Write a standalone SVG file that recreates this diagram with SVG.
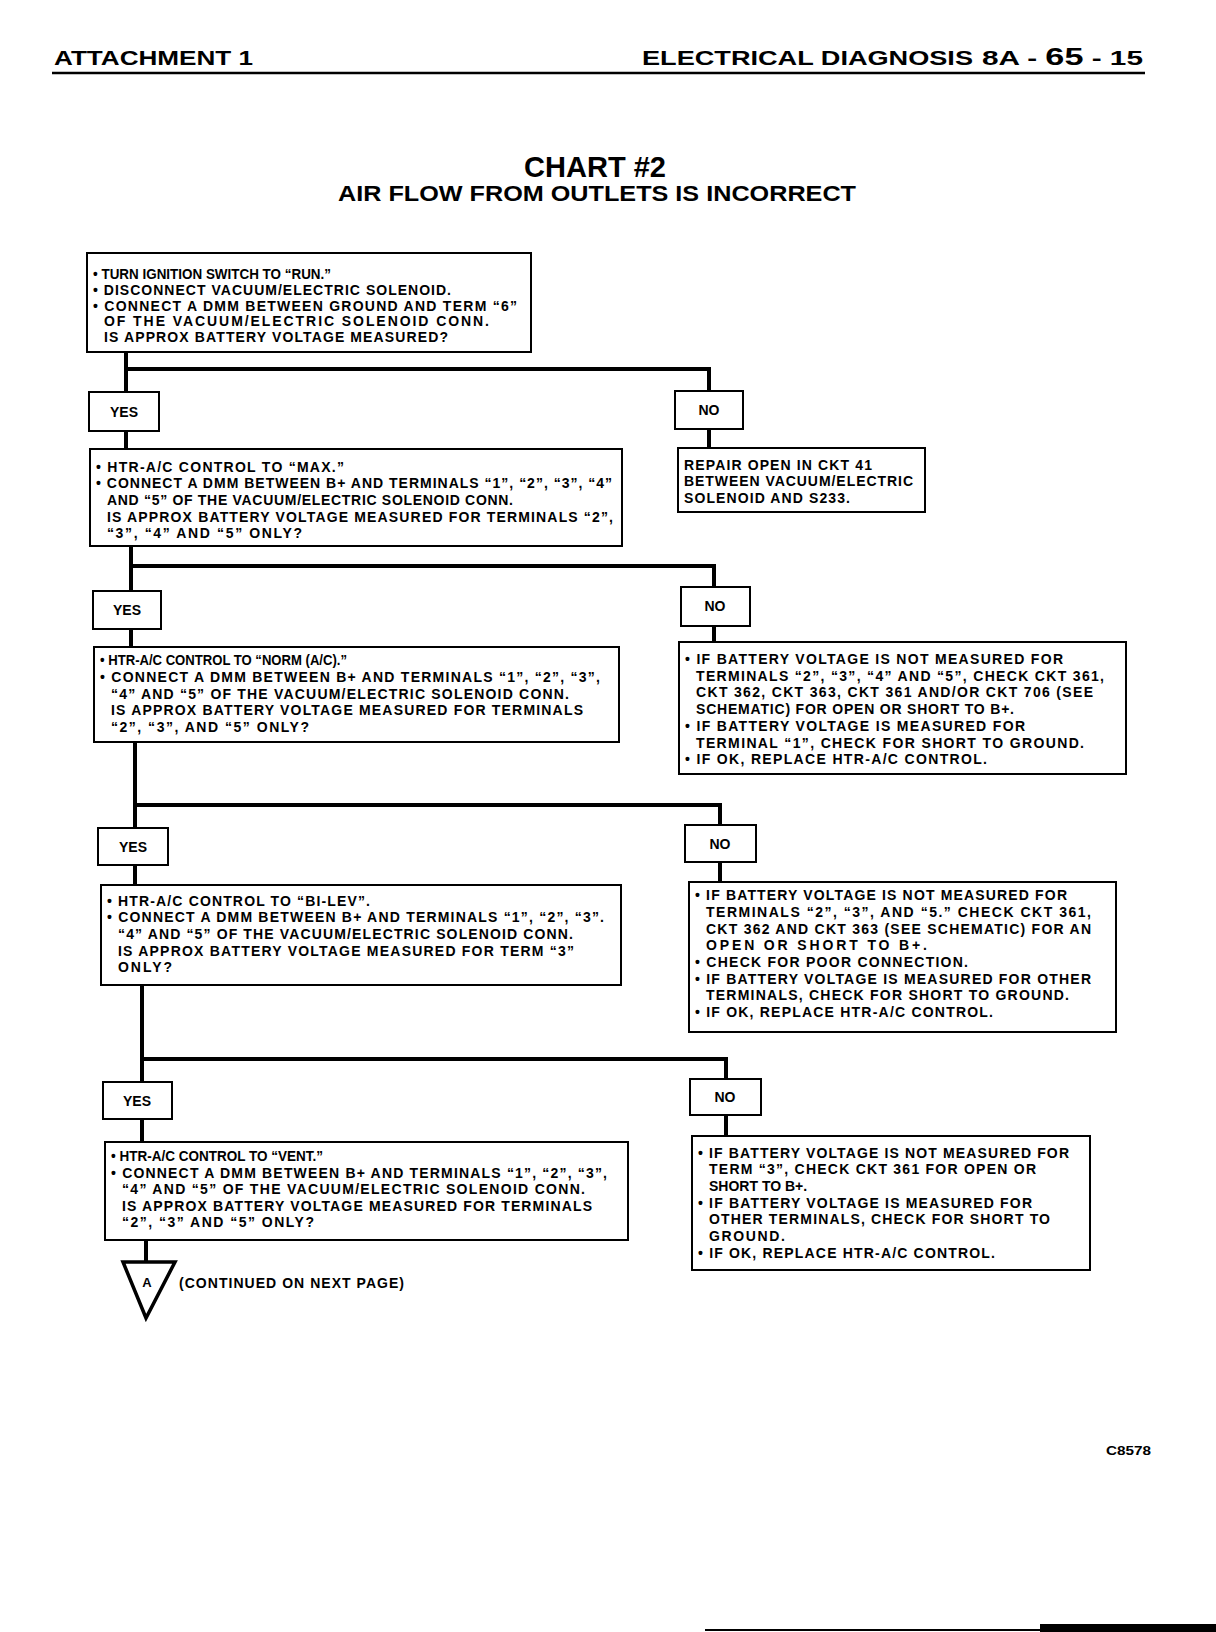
<svg xmlns="http://www.w3.org/2000/svg" width="1216" height="1632" viewBox="0 0 1216 1632">
<style>
text{font-family:"Liberation Sans",Arial,sans-serif;font-weight:bold;fill:#000}
.t{font-size:14px}
.lbl{font-size:14px;text-anchor:middle}
.box{fill:#fff;stroke:#000;stroke-width:2}
.conn{fill:none;stroke:#000;stroke-width:4}
</style>
<rect width="1216" height="1632" fill="#fff"/>
<g id="header">
<text x="54" y="65" font-size="20" textLength="199" lengthAdjust="spacingAndGlyphs">ATTACHMENT 1</text>
<text x="642" y="65" font-size="20" textLength="331" lengthAdjust="spacingAndGlyphs">ELECTRICAL DIAGNOSIS</text>
<text x="982" y="65" font-size="20" textLength="161" lengthAdjust="spacingAndGlyphs">8A - <tspan font-size="23">65</tspan> - 15</text>
<line x1="52" y1="73" x2="1145" y2="73" stroke="#000" stroke-width="2.5"/>
</g>
<g id="title">
<text x="524" y="177" font-size="30" textLength="142" lengthAdjust="spacingAndGlyphs">CHART #2</text>
<text x="338" y="201" font-size="22" textLength="518" lengthAdjust="spacingAndGlyphs">AIR FLOW FROM OUTLETS IS INCORRECT</text>
</g>
<g id="connectors">
<path class="conn" d="M126 352V392M126 369H709V391M126 431V449M709 429V448"/>
<path class="conn" d="M131 546V591M131 566H714V587M131 629V647M714 626V642"/>
<path class="conn" d="M135 742V828M135 805H720V825M135 865V885M720 862V882"/>
<path class="conn" d="M142 985V1082M142 1059H726V1079M142 1119V1142M726 1115V1136"/>
<path class="conn" d="M146 1240V1262"/>
</g>
<g id="step1">
<rect class="box" x="87" y="253" width="444" height="99"/>
<text class="t" x="93" y="279" textLength="238" lengthAdjust="spacingAndGlyphs">• TURN IGNITION SWITCH TO “RUN.”</text>
<text class="t" x="93" y="295" textLength="358" lengthAdjust="spacing">• DISCONNECT VACUUM/ELECTRIC SOLENOID.</text>
<text class="t" x="93" y="311" textLength="424" lengthAdjust="spacing">• CONNECT A DMM BETWEEN GROUND AND TERM “6”</text>
<text class="t" x="104" y="326" textLength="385" lengthAdjust="spacing">OF THE VACUUM/ELECTRIC SOLENOID CONN.</text>
<text class="t" x="104" y="342" textLength="344" lengthAdjust="spacing">IS APPROX BATTERY VOLTAGE MEASURED?</text>
</g>
<g id="yes1"><rect class="box" x="89" y="392" width="70" height="39"/><text class="lbl" x="124" y="417">YES</text></g>
<g id="no1"><rect class="box" x="675" y="391" width="68" height="38"/><text class="lbl" x="709" y="415">NO</text></g>
<g id="repair1">
<rect class="box" x="678" y="448" width="247" height="64"/>
<text class="t" x="684" y="470" textLength="188" lengthAdjust="spacing">REPAIR OPEN IN CKT 41</text>
<text class="t" x="684" y="486" textLength="229" lengthAdjust="spacing">BETWEEN VACUUM/ELECTRIC</text>
<text class="t" x="684" y="503" textLength="166" lengthAdjust="spacing">SOLENOID AND S233.</text>
</g>
<g id="step2">
<rect class="box" x="90" y="449" width="532" height="97"/>
<text class="t" x="96" y="472" textLength="248" lengthAdjust="spacing">• HTR-A/C CONTROL TO “MAX.”</text>
<text class="t" x="96" y="488" textLength="516" lengthAdjust="spacing">• CONNECT A DMM BETWEEN B+ AND TERMINALS “1”, “2”, “3”, “4”</text>
<text class="t" x="107" y="505" textLength="406" lengthAdjust="spacing">AND “5” OF THE VACUUM/ELECTRIC SOLENOID CONN.</text>
<text class="t" x="107" y="522" textLength="506" lengthAdjust="spacing">IS APPROX BATTERY VOLTAGE MEASURED FOR TERMINALS “2”,</text>
<text class="t" x="107" y="538" textLength="195" lengthAdjust="spacing">“3”, “4” AND “5” ONLY?</text>
</g>
<g id="yes2"><rect class="box" x="93" y="591" width="68" height="38"/><text class="lbl" x="127" y="615">YES</text></g>
<g id="no2"><rect class="box" x="681" y="587" width="69" height="39"/><text class="lbl" x="715" y="611">NO</text></g>
<g id="step3">
<rect class="box" x="94" y="647" width="525" height="95"/>
<text class="t" x="100" y="665" textLength="247" lengthAdjust="spacingAndGlyphs">• HTR-A/C CONTROL TO “NORM (A/C).”</text>
<text class="t" x="100" y="682" textLength="500" lengthAdjust="spacing">• CONNECT A DMM BETWEEN B+ AND TERMINALS “1”, “2”, “3”,</text>
<text class="t" x="111" y="699" textLength="458" lengthAdjust="spacing">“4” AND “5” OF THE VACUUM/ELECTRIC SOLENOID CONN.</text>
<text class="t" x="111" y="715" textLength="472" lengthAdjust="spacing">IS APPROX BATTERY VOLTAGE MEASURED FOR TERMINALS</text>
<text class="t" x="111" y="732" textLength="198" lengthAdjust="spacing">“2”, “3”, AND “5” ONLY?</text>
</g>
<g id="repair2">
<rect class="box" x="679" y="642" width="447" height="132"/>
<text class="t" x="685" y="664" textLength="378" lengthAdjust="spacing">• IF BATTERY VOLTAGE IS NOT MEASURED FOR</text>
<text class="t" x="696" y="681" textLength="408" lengthAdjust="spacing">TERMINALS “2”, “3”, “4” AND “5”, CHECK CKT 361,</text>
<text class="t" x="696" y="697" textLength="397" lengthAdjust="spacing">CKT 362, CKT 363, CKT 361 AND/OR CKT 706 (SEE</text>
<text class="t" x="696" y="714" textLength="318" lengthAdjust="spacing">SCHEMATIC) FOR OPEN OR SHORT TO B+.</text>
<text class="t" x="685" y="731" textLength="340" lengthAdjust="spacing">• IF BATTERY VOLTAGE IS MEASURED FOR</text>
<text class="t" x="696" y="748" textLength="388" lengthAdjust="spacing">TERMINAL “1”, CHECK FOR SHORT TO GROUND.</text>
<text class="t" x="685" y="764" textLength="302" lengthAdjust="spacing">• IF OK, REPLACE HTR-A/C CONTROL.</text>
</g>
<g id="yes3"><rect class="box" x="98" y="828" width="70" height="37"/><text class="lbl" x="133" y="852">YES</text></g>
<g id="no3"><rect class="box" x="685" y="825" width="71" height="37"/><text class="lbl" x="720" y="849">NO</text></g>
<g id="step4">
<rect class="box" x="101" y="885" width="520" height="100"/>
<text class="t" x="107" y="906" textLength="263" lengthAdjust="spacing">• HTR-A/C CONTROL TO “BI-LEV”.</text>
<text class="t" x="107" y="922" textLength="497" lengthAdjust="spacing">• CONNECT A DMM BETWEEN B+ AND TERMINALS “1”, “2”, “3”.</text>
<text class="t" x="118" y="939" textLength="455" lengthAdjust="spacing">“4” AND “5” OF THE VACUUM/ELECTRIC SOLENOID CONN.</text>
<text class="t" x="118" y="956" textLength="456" lengthAdjust="spacing">IS APPROX BATTERY VOLTAGE MEASURED FOR TERM “3”</text>
<text class="t" x="118" y="972" textLength="54" lengthAdjust="spacing">ONLY?</text>
</g>
<g id="repair3">
<rect class="box" x="689" y="882" width="427" height="150"/>
<text class="t" x="695" y="900" textLength="372" lengthAdjust="spacing">• IF BATTERY VOLTAGE IS NOT MEASURED FOR</text>
<text class="t" x="706" y="917" textLength="385" lengthAdjust="spacing">TERMINALS “2”, “3”, AND “5.” CHECK CKT 361,</text>
<text class="t" x="706" y="934" textLength="385" lengthAdjust="spacing">CKT 362 AND CKT 363 (SEE SCHEMATIC) FOR AN</text>
<text class="t" x="706" y="950" textLength="221" lengthAdjust="spacing">OPEN OR SHORT TO B+.</text>
<text class="t" x="695" y="967" textLength="273" lengthAdjust="spacing">• CHECK FOR POOR CONNECTION.</text>
<text class="t" x="695" y="984" textLength="396" lengthAdjust="spacing">• IF BATTERY VOLTAGE IS MEASURED FOR OTHER</text>
<text class="t" x="706" y="1000" textLength="363" lengthAdjust="spacing">TERMINALS, CHECK FOR SHORT TO GROUND.</text>
<text class="t" x="695" y="1017" textLength="298" lengthAdjust="spacing">• IF OK, REPLACE HTR-A/C CONTROL.</text>
</g>
<g id="yes4"><rect class="box" x="103" y="1082" width="69" height="37"/><text class="lbl" x="137" y="1106">YES</text></g>
<g id="no4"><rect class="box" x="690" y="1079" width="71" height="36"/><text class="lbl" x="725" y="1102">NO</text></g>
<g id="step5">
<rect class="box" x="105" y="1142" width="523" height="98"/>
<text class="t" x="111" y="1161" textLength="212" lengthAdjust="spacingAndGlyphs">• HTR-A/C CONTROL TO “VENT.”</text>
<text class="t" x="111" y="1178" textLength="496" lengthAdjust="spacing">• CONNECT A DMM BETWEEN B+ AND TERMINALS “1”, “2”, “3”,</text>
<text class="t" x="122" y="1194" textLength="463" lengthAdjust="spacing">“4” AND “5” OF THE VACUUM/ELECTRIC SOLENOID CONN.</text>
<text class="t" x="122" y="1211" textLength="470" lengthAdjust="spacing">IS APPROX BATTERY VOLTAGE MEASURED FOR TERMINALS</text>
<text class="t" x="122" y="1227" textLength="192" lengthAdjust="spacing">“2”, “3” AND “5” ONLY?</text>
</g>
<g id="repair4">
<rect class="box" x="692" y="1136" width="398" height="134"/>
<text class="t" x="698" y="1158" textLength="371" lengthAdjust="spacing">• IF BATTERY VOLTAGE IS NOT MEASURED FOR</text>
<text class="t" x="709" y="1174" textLength="327" lengthAdjust="spacing">TERM “3”, CHECK CKT 361 FOR OPEN OR</text>
<text class="t" x="709" y="1191">SHORT TO B+.</text>
<text class="t" x="698" y="1208" textLength="334" lengthAdjust="spacing">• IF BATTERY VOLTAGE IS MEASURED FOR</text>
<text class="t" x="709" y="1224" textLength="341" lengthAdjust="spacing">OTHER TERMINALS, CHECK FOR SHORT TO</text>
<text class="t" x="709" y="1241" textLength="76" lengthAdjust="spacing">GROUND.</text>
<text class="t" x="698" y="1258" textLength="297" lengthAdjust="spacing">• IF OK, REPLACE HTR-A/C CONTROL.</text>
</g>
<g id="offpage-A">
<polygon points="123,1262 175,1262 146,1318" fill="#fff" stroke="#000" stroke-width="3.5" stroke-linejoin="miter"/>
<text x="147" y="1287" font-size="13" text-anchor="middle">A</text>
<text x="179" y="1288" font-size="14" textLength="225" lengthAdjust="spacing">(CONTINUED ON NEXT PAGE)</text>
</g>
<text id="code" x="1106" y="1455" font-size="13" textLength="45" lengthAdjust="spacingAndGlyphs">C8578</text>
<g id="edge">
<line x1="705" y1="1630" x2="1040" y2="1630" stroke="#000" stroke-width="2"/>
<rect x="1040" y="1624" width="176" height="8" fill="#000"/>
</g>
</svg>
